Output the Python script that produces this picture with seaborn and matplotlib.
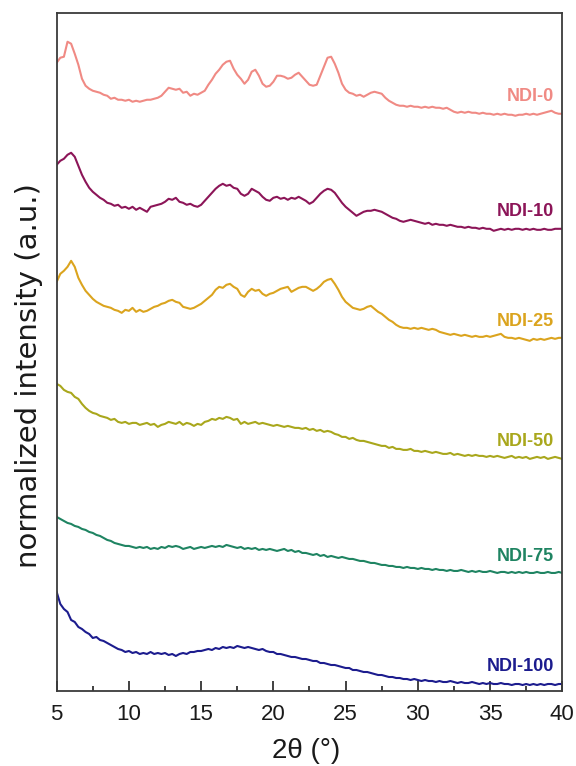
import numpy as np
import pandas as pd
import matplotlib
matplotlib.use("Agg")
import matplotlib.pyplot as plt
from matplotlib.ticker import MultipleLocator
import seaborn as sns

# ---------------- data ----------------
TWO_THETA_START = 5.0
TWO_THETA_STEP = 0.25
SAMPLES = ["NDI-0", "NDI-10", "NDI-25", "NDI-50", "NDI-75", "NDI-100"]
# vertical stacking offset of each pattern (a.u.)
OFFSETS = [576, 461, 351, 231, 116, 6]
COLORS = ["#F08A84", "#8C1558", "#DBA41E", "#A9A71C", "#1F8462", "#1C1C8E"]

NDI_0 = [
    52, 57, 58, 73, 71, 61, 50, 36, 29, 26, 24, 23, 22, 20, 19, 16,
    17, 15, 15, 14, 15, 13, 14, 13, 14, 15, 15, 16, 17, 19, 23, 27,
    26, 25, 26, 22, 23, 19, 21, 20, 22, 24, 30, 35, 41, 45, 50, 53,
    54, 46, 40, 36, 31, 35, 43, 45, 39, 31, 28, 29, 33, 39, 39, 38,
    36, 37, 40, 42, 38, 34, 30, 29, 30, 39, 48, 57, 58, 51, 42, 31,
    25, 22, 21, 19, 20, 18, 20, 22, 23, 22, 21, 17, 14, 12, 10, 9,
    9, 8, 9, 8, 8, 7, 8, 7, 8, 7, 7, 6, 7, 5, 3, 2,
    3, 2, 3, 2, 2, 1, 2, 1, 1, 0, 1, 0, 1, 0, 0, -1,
    0, 0, 1, 0, 1, 0, 1, 2, 3, 4, 2, 1, 1,
]
NDI_10 = [
    65, 69, 71, 75, 77, 73, 64, 55, 48, 42, 38, 35, 32, 30, 27, 26,
    24, 25, 22, 23, 21, 23, 20, 22, 20, 18, 23, 24, 25, 26, 28, 31,
    30, 32, 28, 27, 25, 26, 24, 23, 25, 29, 33, 37, 41, 44, 46, 44,
    45, 42, 41, 36, 34, 36, 41, 39, 37, 33, 30, 29, 32, 33, 31, 32,
    30, 32, 31, 33, 31, 29, 26, 28, 32, 36, 39, 41, 40, 37, 32, 27,
    23, 20, 17, 14, 16, 18, 19, 19, 20, 19, 18, 16, 14, 12, 11, 9,
    8, 9, 10, 9, 8, 7, 6, 7, 5, 6, 5, 5, 4, 5, 4, 3,
    3, 2, 3, 2, 2, 1, 2, 1, 1, -1, 0, 1, 0, 1, 0, 1,
    1, 0, 1, 0, 1, 0, 0, 1, 0, 0, 1, 1, 1,
]
NDI_25 = [
    58, 66, 69, 73, 79, 73, 62, 55, 49, 45, 41, 38, 36, 34, 33, 32,
    30, 29, 27, 30, 29, 32, 28, 30, 28, 29, 31, 33, 34, 36, 37, 39,
    40, 38, 37, 33, 32, 31, 32, 34, 36, 39, 42, 45, 50, 53, 52, 55,
    56, 53, 51, 45, 43, 48, 51, 49, 50, 46, 44, 46, 47, 49, 51, 52,
    53, 48, 50, 52, 53, 53, 51, 49, 51, 54, 58, 60, 61, 56, 50, 43,
    38, 35, 32, 31, 30, 31, 33, 34, 31, 28, 26, 23, 20, 18, 15, 13,
    12, 12, 11, 12, 11, 12, 11, 10, 11, 10, 8, 7, 6, 5, 6, 5,
    4, 5, 4, 3, 4, 3, 3, 4, 3, 4, 5, 6, 3, 2, 2, 1,
    2, 1, 0, -1, 1, 0, 1, 0, 1, 2, 1, 2, 2,
]
NDI_50 = [
    76, 74, 70, 68, 67, 63, 61, 56, 52, 49, 47, 46, 44, 43, 42, 40,
    41, 38, 37, 38, 36, 37, 37, 35, 36, 37, 35, 36, 33, 35, 36, 38,
    37, 36, 38, 35, 37, 36, 34, 36, 35, 38, 39, 41, 40, 42, 41, 43,
    42, 40, 41, 36, 38, 36, 37, 38, 36, 37, 36, 35, 34, 35, 34, 33,
    34, 33, 32, 32, 31, 32, 30, 31, 29, 30, 28, 29, 28, 26, 25, 23,
    23, 21, 22, 20, 19, 19, 18, 17, 16, 15, 14, 14, 12, 13, 11, 11,
    10, 10, 11, 9, 9, 8, 9, 8, 7, 8, 7, 6, 6, 7, 5, 6,
    5, 4, 5, 4, 5, 4, 4, 3, 4, 3, 4, 3, 2, 3, 4, 2,
    3, 2, 3, 1, 2, 3, 2, 3, 1, 2, 3, 2, 1,
]
NDI_75 = [
    58, 56, 54, 52, 51, 49, 48, 46, 45, 43, 42, 40, 39, 37, 35, 34,
    32, 31, 30, 29, 29, 28, 27, 28, 27, 28, 26, 27, 26, 28, 27, 29,
    28, 29, 28, 26, 27, 28, 26, 27, 28, 27, 28, 29, 28, 29, 28, 30,
    29, 28, 27, 28, 26, 27, 26, 27, 25, 26, 25, 26, 25, 24, 25, 26,
    24, 25, 23, 24, 22, 22, 21, 20, 21, 19, 20, 18, 19, 18, 17, 18,
    17, 16, 16, 15, 14, 14, 13, 12, 12, 11, 10, 10, 9, 9, 8, 8,
    7, 8, 7, 7, 6, 7, 6, 6, 5, 6, 5, 5, 4, 5, 4, 4,
    5, 4, 3, 4, 3, 4, 3, 3, 4, 3, 2, 3, 3, 2, 3, 2,
    3, 2, 3, 2, 2, 3, 2, 2, 3, 2, 2, 3, 2,
]
NDI_100 = [
    93, 81, 76, 73, 65, 63, 58, 56, 53, 51, 47, 48, 45, 44, 42, 40,
    38, 36, 35, 33, 34, 32, 33, 31, 32, 31, 33, 31, 32, 31, 32, 30,
    31, 29, 31, 32, 31, 33, 33, 34, 34, 35, 36, 35, 37, 36, 38, 37,
    38, 37, 39, 38, 37, 38, 37, 36, 35, 36, 34, 33, 33, 31, 31, 30,
    29, 28, 28, 27, 26, 26, 25, 24, 24, 22, 22, 21, 20, 20, 19, 18,
    17, 17, 15, 15, 14, 13, 13, 12, 11, 10, 10, 9, 8, 8, 7, 7,
    6, 6, 5, 6, 5, 4, 5, 4, 4, 3, 4, 3, 3, 4, 3, 2,
    3, 2, 2, 3, 2, 1, 2, 1, 2, 1, 1, 2, 1, 1, 0, 1,
    1, 0, 1, 0, 1, 0, 1, 0, 1, 1, 0, 1, 1,
]
PATTERNS = [NDI_0, NDI_10, NDI_25, NDI_50, NDI_75, NDI_100]

X_TICKS = [5, 10, 15, 20, 25, 30, 35, 40]
X_LABEL = "2θ (°)"
Y_LABEL = "normalized intensity (a.u.)"

# ---------------- tidy table ----------------
frames = []
for name, vals, off in zip(SAMPLES, PATTERNS, OFFSETS):
    vals = np.asarray(vals, dtype=float)
    tt = TWO_THETA_START + TWO_THETA_STEP * np.arange(len(vals))
    frames.append(pd.DataFrame({"two_theta": tt, "intensity": vals + off, "sample": name}))
df = pd.concat(frames, ignore_index=True)

# ---------------- plot ----------------
sns.set_theme(style="ticks")
plt.rcParams["font.family"] = ["Liberation Sans", "DejaVu Sans"]

fig = plt.figure(figsize=(5.76, 7.66), dpi=100)
ax = fig.add_axes([0.0984, 0.0979, 0.8778, 0.8855])

sns.lineplot(data=df, x="two_theta", y="intensity", hue="sample",
             hue_order=SAMPLES, palette=dict(zip(SAMPLES, COLORS)),
             estimator=None, sort=False, legend=False, linewidth=1.5, ax=ax)

for name, off, col in zip(SAMPLES, OFFSETS, COLORS):
    ax.text(39.45, off + 18, name, color=col, fontsize=13, fontweight="bold",
            ha="right", va="center")

ax.set_xlim(5, 40)
ax.set_ylim(0, 678)
ax.set_xticks(X_TICKS)
ax.set_xticklabels([str(t) for t in X_TICKS], fontsize=16, color="#1a1a1a")
ax.xaxis.set_minor_locator(MultipleLocator(2.5))
ax.set_yticks([])
ax.tick_params(axis="x", which="major", direction="in", length=7, width=1.3,
               pad=9, color="#333333")
ax.tick_params(axis="x", which="minor", direction="in", length=3.5, width=1.3,
               color="#333333")
for sp in ax.spines.values():
    sp.set_visible(True)
    sp.set_color("#3a3a3a")
    sp.set_linewidth(1.3)

ax.set_xlabel(X_LABEL, fontsize=20, color="#1a1a1a", va="center")
ax.xaxis.set_label_coords(0.493, -0.0885)
ax.set_ylabel(Y_LABEL, fontsize=21, color="#1a1a1a", va="center",
              family=["DejaVu Sans"])
ax.yaxis.set_label_coords(-0.055, 0.4646)

fig.savefig("out.png", dpi=100)
